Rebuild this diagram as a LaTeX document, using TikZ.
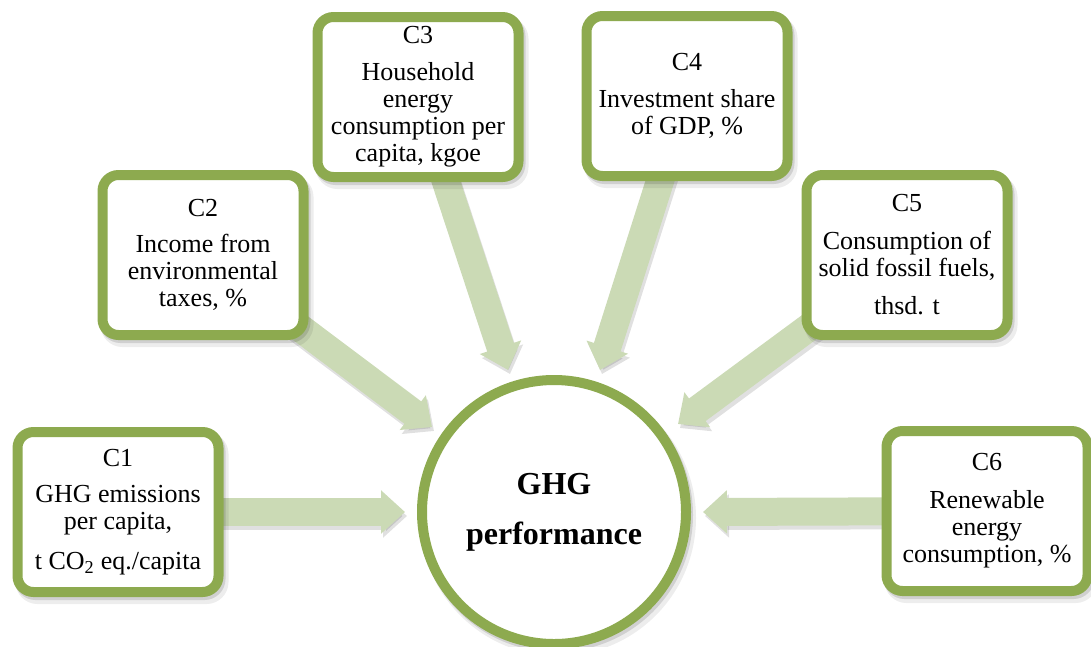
\documentclass[tikz,border=0pt]{standalone}
\usepackage{fontspec}
\setmainfont{Liberation Serif}
\usetikzlibrary{arrows.meta,backgrounds}
\definecolor{gborder}{RGB}{141,170,79}
\definecolor{garrow}{RGB}{203,218,181}
\begin{document}
\begin{tikzpicture}[x=1pt,y=-1pt,
  boxshadow/.style={
    preaction={draw=black, line width=12pt, opacity=0.07,
      transform canvas={xshift=4pt,yshift=-6pt}},
    preaction={draw=black, line width=10pt, opacity=0.12,
      transform canvas={xshift=2pt,yshift=-3pt}}},
  box/.style={boxshadow, draw=gborder, line width=10pt, fill=white,
      rounded corners=16pt, minimum width=201pt, minimum height=160pt,
      inner sep=0pt, align=center, text=black,
      font=\fontsize{26}{27}\selectfont},
  hub/.style={boxshadow, circle, draw=gborder, line width=10pt, fill=white,
      minimum size=264pt, inner sep=0pt, align=center,
      font=\fontsize{32}{50}\selectfont\bfseries},
  bigarrow/.style={draw=garrow, line width=28pt,
      -{Triangle[width=42pt,length=24pt]},
      preaction={draw=black, opacity=0.12, line width=28pt,
        -{Triangle[width=42pt,length=24pt]},
        transform canvas={xshift=2pt,yshift=-4pt}}}]
\useasboundingbox (0,0) rectangle (1091,646);

\node[hub] (hub) at (554,512) {GHG\\performance};

\node[box] (c1) at (118,512) {C1\\[9pt]GHG emissions\\per capita,\\[13pt]t CO\textsubscript{2} eq./capita};
\node[box] (c2) at (203,255) {C2\\[9pt]Income from\\environmental\\taxes, \%};
\node[box] (c3) at (418,97) {C3\\[10pt]Household\\energy\\consumption per\\capita, kgoe};
\node[box] (c4) at (687,96) {C4\\[10pt]Investment share\\of GDP, \%};
\node[box] (c5) at (907,255) {C5\\[11pt]Consumption of\\solid fossil fuels,\\[11pt]thsd. t};
\node[box] (c6) at (987,511) {C6\\[11pt]Renewable\\energy\\consumption, \%};

\coordinate (t1) at (405,512);
\coordinate (t2) at (432,427);
\coordinate (t3) at (508,370);
\coordinate (t4) at (600,370);
\coordinate (t5) at (678,424);
\coordinate (t6) at (703,512);

\begin{scope}[on background layer]
  \draw[bigarrow] (c1.center) -- (t1);
  \draw[bigarrow] (c2.center) -- (t2);
  \draw[bigarrow] (c3.center) -- (t3);
  \draw[bigarrow] (c4.center) -- (t4);
  \draw[bigarrow] (c5.center) -- (t5);
  \draw[bigarrow] (c6.center) -- (t6);
\end{scope}
\end{tikzpicture}
\end{document}
